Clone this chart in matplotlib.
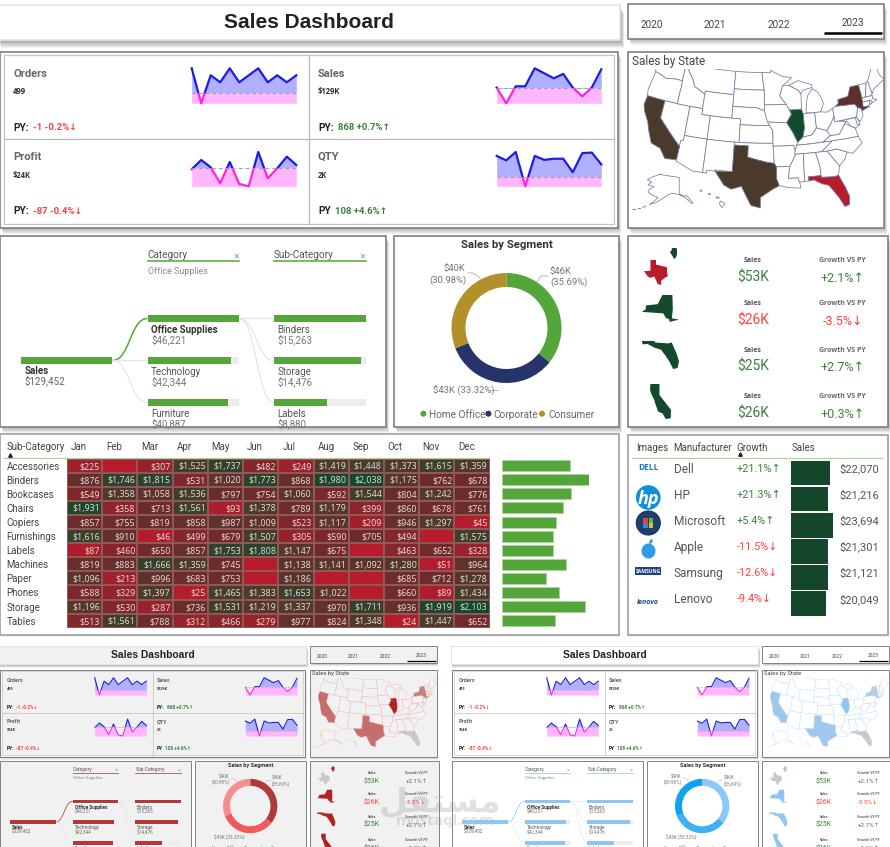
import numpy as np
import matplotlib
matplotlib.use("Agg")
import matplotlib.pyplot as plt
from matplotlib.colors import LinearSegmentedColormap
from matplotlib.patches import Rectangle, Circle, Ellipse, PathPatch
from matplotlib.path import Path

# ---------- figures shown on the dashboard ----------
MONTHS = ["Jan", "Feb", "Mar", "Apr", "May", "Jun", "Jul", "Aug", "Sep", "Oct", "Nov", "Dec"]
YEARS = ["2020", "2021", "2022", "2023"]

ORDERS_TREND = [48, 38, 46, 44, 48, 44, 46, 48, 44, 46, 44, 46]
ORDERS_BASE = 41
SALES_TREND = [10.8, 8.45, 11.0, 11.0, 13.7, 12.95, 12.2, 12.85, 10.8, 9.5, 10.8, 13.55]
SALES_BASE = 10.8
PROFIT_TREND = [1.91, 2.75, 2.09, 0.65, 2.57, 0.59, 0.38, 3.47, 1.1, 2.0, 3.05, 2.3]
PROFIT_BASE = 2.0
QTY_TREND = [187, 179, 194, 133, 187, 180, 182, 182, 158, 192, 193, 172]
QTY_BASE = 150

CATEGORY_NAMES = ["Office Supplies", "Technology", "Furniture"]
CATEGORY_SALES = [46221, 42344, 40887]
SUBCAT_NAMES = ["Binders", "Storage", "Labels"]
SUBCAT_SALES = [15263, 14476, 8880]

SEGMENT_NAMES = ["Home Office", "Corporate", "Consumer"]
SEGMENT_SHARE = [35.69, 33.32, 30.98]

HEAT_LABELS = ["Accessories", "Binders", "Bookcases", "Chairs", "Copiers", "Furnishings",
               "Labels", "Machines", "Paper", "Phones", "Storage", "Tables"]
HEAT_ACCESSORIES = [225, None, 307, 1525, 1737, 482, 249, 1419, 1448, 1373, 1615, 1359]
HEAT_BINDERS = [876, 1746, 1815, 531, 1020, 1773, 868, 1980, 2038, 1175, 762, 678]
HEAT_BOOKCASES = [549, 1358, 1058, 1536, 797, 754, 1060, 592, 1544, 804, 1242, 776]
HEAT_CHAIRS = [1931, 358, 713, 1561, 93, 1378, 789, 1179, 399, 860, 678, 761]
HEAT_COPIERS = [857, 755, 819, 858, 987, 1009, 523, 1117, 209, 946, 1297, 45]
HEAT_FURNISHINGS = [1616, 910, 46, 499, 679, 1507, 305, 590, 705, 494, None, 1575]
HEAT_LABELS_ROW = [87, 460, 650, 857, 1753, 1808, 1147, 675, None, 463, 652, 328]
HEAT_MACHINES = [819, 883, 1666, 1359, 745, None, 1138, 1141, 1092, 1280, 51, 964]
HEAT_PAPER = [1096, 213, 996, 683, 753, None, 1186, None, None, 685, 712, 1278]
HEAT_PHONES = [588, 329, 1397, 25, 1465, 1383, 1653, 1022, None, 660, 89, 1434]
HEAT_STORAGE = [1196, 530, 287, 736, 1531, 1219, 1337, 970, 1711, 936, 1919, 2103]
HEAT_TABLES = [513, 1561, 788, 312, 466, 279, 977, 824, 1348, 24, 1447, 652]
HEAT_ROWS = [HEAT_ACCESSORIES, HEAT_BINDERS, HEAT_BOOKCASES, HEAT_CHAIRS, HEAT_COPIERS,
             HEAT_FURNISHINGS, HEAT_LABELS_ROW, HEAT_MACHINES, HEAT_PAPER, HEAT_PHONES,
             HEAT_STORAGE, HEAT_TABLES]
SUBCAT_TOTALS = [11939, 15263, 12070, 10700, 9422, 8926, 8880, 11138, 7602, 10045, 14476, 9191]

CARD_STATES = ["TX", "NY", "FL", "CA"]
CARD_SALES = ["$53K", "$26K", "$25K", "$26K"]
CARD_GROWTH = ["+2.1%↑", "-3.5%↓", "+2.7%↑", "+0.3%↑"]

MAKERS = ["Dell", "HP", "Microsoft", "Apple", "Samsung", "Lenovo"]
MAKER_GROWTH = ["+21.1%↑", "+21.3%↑", "+5.4%↑", "-11.5%↓", "-12.6%↓", "-9.4%↓"]
MAKER_SALES = [22070, 21216, 23694, 21301, 21121, 20049]

# Simplified state outlines as (longitude, latitude)
STATES = {
    "WA": [(-124.7, 48.4), (-123, 48.2), (-122.8, 49), (-117, 49), (-117, 46), (-119, 46), (-121, 45.7), (-123, 46.2), (-124, 46.3)],
    "OR": [(-124, 46.3), (-123, 46.2), (-121, 45.7), (-119, 46), (-117, 46), (-116.9, 45), (-117, 44), (-117, 42), (-124.2, 42), (-124.5, 43)],
    "CA": [(-124.2, 42), (-120, 42), (-120, 39), (-114.6, 35), (-114.7, 32.7), (-117.1, 32.5), (-118.5, 34), (-120.6, 34.5), (-121.9, 36.6), (-122.5, 37.8), (-123.8, 39.3), (-124.4, 40.4)],
    "NV": [(-120, 42), (-114, 42), (-114, 36.2), (-114.6, 36), (-114.6, 35), (-120, 39)],
    "ID": [(-117, 49), (-116, 49), (-116, 48), (-114.5, 46.6), (-113.8, 45.5), (-111, 44.5), (-111, 42), (-117, 42), (-117, 44), (-116.9, 45), (-117, 46)],
    "MT": [(-116, 49), (-104, 49), (-104, 45), (-111, 45), (-111, 44.5), (-113.8, 45.5), (-114.5, 46.6), (-116, 48)],
    "WY": [(-111, 45), (-104, 45), (-104, 41), (-111, 41)],
    "UT": [(-114, 42), (-111, 42), (-111, 41), (-109, 41), (-109, 37), (-114, 37)],
    "AZ": [(-114, 37), (-109, 37), (-109, 31.3), (-111, 31.3), (-114.8, 32.5), (-114.7, 32.7), (-114.6, 35), (-114.6, 36), (-114, 36.2)],
    "CO": [(-109, 41), (-102, 41), (-102, 37), (-109, 37)],
    "NM": [(-109, 37), (-103, 37), (-103, 32), (-106.6, 32), (-106.5, 31.8), (-108.2, 31.8), (-108.2, 31.3), (-109, 31.3)],
    "ND": [(-104, 49), (-97.2, 49), (-96.6, 46), (-104, 46)],
    "SD": [(-104, 46), (-96.6, 46), (-96.5, 42.5), (-98.5, 43), (-104, 43)],
    "NE": [(-104, 43), (-98.5, 43), (-96.5, 42.5), (-95.3, 40), (-102, 40), (-102, 41), (-104, 41)],
    "KS": [(-102, 40), (-95.3, 40), (-94.6, 39.1), (-94.6, 37), (-102, 37)],
    "OK": [(-103, 37), (-94.6, 37), (-94.4, 33.6), (-96, 33.8), (-100, 34.6), (-100, 36.5), (-103, 36.5)],
    "TX": [(-103, 36.5), (-100, 36.5), (-100, 34.6), (-96, 33.8), (-94.4, 33.6), (-94, 33), (-94, 31), (-93.5, 29.8), (-95, 29.1), (-97.2, 27.8), (-97.2, 26), (-99, 26.4), (-101, 29.6), (-103, 29), (-104.5, 29.6), (-106.5, 31.8), (-103, 32)],
    "MN": [(-97.2, 49), (-95, 49), (-95, 49.4), (-92, 48.3), (-89.6, 48), (-92, 46.7), (-92.3, 46), (-92.8, 45), (-91.3, 43.5), (-96.5, 43.5), (-96.5, 45.5), (-96.6, 46)],
    "IA": [(-96.5, 43.5), (-91.3, 43.5), (-90.2, 41.8), (-91.4, 40.4), (-95.8, 40.6), (-96.5, 42.5)],
    "MO": [(-95.8, 40.6), (-91.4, 40.4), (-90.2, 38.8), (-89.2, 37), (-89.5, 36), (-90.3, 36), (-90.1, 36.5), (-94.6, 36.5), (-94.6, 39.1)],
    "AR": [(-94.6, 36.5), (-90.1, 36.5), (-89.8, 35), (-91.2, 33), (-94, 33), (-94.4, 33.6)],
    "LA": [(-94, 33), (-91.2, 33), (-91.6, 31), (-89.7, 31), (-89.4, 30.2), (-89.2, 29.2), (-91.5, 29.4), (-93.5, 29.8), (-94, 31)],
    "WI": [(-92, 46.7), (-90.5, 46.7), (-88.2, 45.8), (-87.6, 45), (-87.8, 42.5), (-90.6, 42.5), (-91.3, 43.5), (-92.8, 45), (-92.3, 46)],
    "IL": [(-90.6, 42.5), (-87.8, 42.5), (-87.5, 41.7), (-87.5, 39.3), (-88, 37.8), (-89.2, 37), (-90.2, 38.8), (-91.4, 40.4), (-90.2, 41.8)],
    "IN": [(-87.5, 41.7), (-84.8, 41.7), (-84.8, 39.1), (-86, 38), (-88, 37.8), (-87.5, 39.3)],
    "MI": [(-86.8, 41.8), (-84.8, 41.7), (-83.4, 41.7), (-82.5, 43), (-82.8, 44), (-83.4, 45), (-84.7, 45.8), (-86, 44.7), (-86.5, 43.5)],
    "UP": [(-90.5, 46.7), (-88, 47.4), (-84.8, 46.5), (-84.7, 46), (-87, 45.7), (-87.6, 45.1), (-88.2, 45.8)],
    "OH": [(-84.8, 41.7), (-83.4, 41.7), (-82, 41.5), (-80.5, 42), (-80.5, 40.6), (-81.7, 39.2), (-82.6, 38.4), (-84.8, 39.1)],
    "KY": [(-89.5, 36.5), (-83.7, 36.6), (-82, 37.5), (-82.6, 38.4), (-84.8, 39.1), (-86, 38), (-88, 37.8), (-89.2, 37)],
    "TN": [(-90.1, 35), (-84.3, 35), (-81.7, 36.6), (-89.5, 36.5)],
    "MS": [(-91.2, 33), (-89.8, 35), (-88.2, 35), (-88.4, 30.3), (-89.4, 30.2), (-89.7, 31), (-91.6, 31)],
    "AL": [(-88.2, 35), (-85.6, 35), (-85, 32.5), (-85, 31), (-87.6, 31), (-87.5, 30.3), (-88.4, 30.3)],
    "GA": [(-85.6, 35), (-83.1, 35), (-81, 32.2), (-81.5, 30.7), (-82.2, 30.5), (-85, 30.7), (-85, 32.5)],
    "FL": [(-87.6, 31), (-85, 31), (-85, 30.7), (-82.2, 30.5), (-81.5, 30.7), (-80.5, 28.4), (-80, 26.8), (-80.3, 25.4), (-81.2, 25.2), (-82, 26.8), (-82.8, 28), (-83.7, 29.2), (-85, 29.6), (-86.5, 30.4), (-87.5, 30.3)],
    "SC": [(-83.1, 35), (-81, 35.1), (-79, 34.3), (-79.7, 33.2), (-81, 32.2)],
    "NC": [(-84.3, 35), (-83.1, 35), (-81, 35.1), (-79, 34.3), (-77.9, 33.9), (-75.5, 35.3), (-76, 36.55), (-81.7, 36.6)],
    "VA": [(-83.7, 36.6), (-76, 36.55), (-76.3, 38), (-77.2, 38.5), (-78.4, 39.1), (-80, 37.5), (-82, 37.5)],
    "WV": [(-82.6, 38.4), (-82, 37.5), (-80, 37.5), (-78.4, 39.1), (-77.8, 39.4), (-79.5, 39.7), (-80.5, 39.7), (-80.5, 40.6), (-81.7, 39.2)],
    "MD": [(-79.5, 39.7), (-75.8, 39.7), (-75.1, 38.4), (-76.3, 38), (-77.2, 38.5), (-77.8, 39.4)],
    "DE": [(-75.8, 39.7), (-75.4, 39.8), (-75.1, 38.45), (-75.7, 38.45)],
    "PA": [(-80.5, 42), (-79.8, 42.25), (-75.3, 42), (-74.8, 41.3), (-75.1, 40.6), (-75.4, 39.8), (-80.5, 39.7)],
    "NY": [(-79.8, 42.25), (-79, 42.7), (-79, 43.3), (-76.5, 43.5), (-75.5, 45), (-73.4, 45), (-73.3, 42.7), (-73.5, 41.2), (-72, 41), (-74, 40.6), (-74, 41), (-74.8, 41.3), (-75.3, 42)],
    "NJ": [(-75.1, 40.6), (-74.8, 41.3), (-74, 41), (-74, 39.7), (-74.9, 38.9), (-75.5, 39.6)],
    "CT": [(-73.7, 42), (-71.8, 42), (-71.8, 41.3), (-73.6, 41)],
    "RI": [(-71.8, 42), (-71.4, 42), (-71.2, 41.5), (-71.8, 41.3)],
    "MA": [(-73.4, 42.75), (-71.3, 42.7), (-70.7, 42.6), (-71, 42.2), (-70, 41.8), (-71.2, 41.5), (-71.4, 42), (-73.7, 42)],
    "VT": [(-73.4, 45), (-71.5, 45), (-72.4, 42.75), (-73.3, 42.75)],
    "NH": [(-71.5, 45), (-71, 45.3), (-70.7, 43), (-71.3, 42.7), (-72.4, 42.75)],
    "ME": [(-71, 45.3), (-70.3, 46), (-69.2, 47.4), (-68, 47.3), (-67.8, 45.7), (-67, 44.8), (-70, 43.7), (-70.7, 43)],
}
ALASKA = [(-156.5, 71.3), (-162, 70), (-166.5, 68.4), (-163, 67), (-166, 65.5), (-161, 64.5), (-165, 63),
          (-166, 61.5), (-162, 59.5), (-158, 58.5), (-162, 55.8), (-165, 54.6), (-160, 55.5), (-155, 57.5),
          (-152, 59), (-150, 60), (-146, 60.8), (-141, 60), (-137, 58.7), (-134, 57), (-131, 55), (-130, 55.5),
          (-132, 57), (-135, 59.5), (-137, 59.2), (-141, 60.3), (-141, 69.6), (-150, 70.5)]
ALEUTIANS = [[(-170, 53), (-168, 53.6)], [(-174, 52.2), (-172, 52.4)], [(-178, 51.7), (-176, 51.8)]]
HAWAII = [[(-155.9, 20.2), (-155, 19.7), (-155.6, 18.95), (-156, 19.6)],
          [(-156.7, 21), (-156, 20.8), (-156.4, 20.6)],
          [(-158.2, 21.5), (-157.8, 21.6), (-157.7, 21.3)],
          [(-159.7, 22.1), (-159.3, 22.2), (-159.4, 21.9)]]

GREEN_THEME = dict(panel="#ffffff", accent="#54a63a", accent_light="#a9d49a",
                   donut=["#54a63a", "#27346b", "#b2912a"],
                   fills={"CA": "#4b3a2b", "TX": "#4b3a2b", "IL": "#134a2c", "NY": "#5e2f2b", "FL": "#b71c2c"},
                   line="#747e9e", card={"TX": "#b71c2c", "IL": "#134a2c", "NY": "#134a2c", "FL": "#134a2c", "CA": "#134a2c"})
RED_THEME = dict(panel="#f1f1f1", accent="#b03a3a", accent_light="#c98080",
                 donut=["#b03a3a", "#f05a5a", "#f48f8f"],
                 fills={"CA": "#c66d6d", "TX": "#c66d6d", "IL": "#b32222", "NY": "#c67f7f", "FL": "#c8c8c8"},
                 line="#efb0b0", card={"TX": "#c8c8c8", "IL": "#b32222", "NY": "#b32222", "FL": "#b32222", "CA": "#b32222"})
BLUE_THEME = dict(panel="#ffffff", accent="#8cc6f5", accent_light="#a6d3f7",
                  donut=["#8cc8f8", "#3fb0f0", "#0ea3ec"],
                  fills={"CA": "#a0c8ec", "TX": "#a0c8ec", "IL": "#8ec5f4", "NY": "#b9cde0", "FL": "#c9c9c9"},
                  line="#bcdcf5", card={"TX": "#c8c8c8", "IL": "#8cc6f5", "NY": "#8cc6f5", "FL": "#8cc6f5", "CA": "#8cc6f5"})

W, H = 890, 847
SEGOE = ["Open Sans", "DejaVu Sans"]
DIN = ["Roboto", "DejaVu Sans"]
TITLE = ["Liberation Sans", "DejaVu Sans"]
POS = "#3f7f3f"
NEG = "#ff4040"

fig = plt.figure(figsize=(W / 100, H / 100), dpi=100, facecolor="white")
canvas = fig.add_axes([0, 0, 1, 1], zorder=0)
canvas.set_xlim(0, W)
canvas.set_ylim(H, 0)
canvas.axis("off")


def albers(points):
    """Albers conic projection for the lower 48 states."""
    pts = np.radians(np.asarray(points, dtype=float))
    p1, p2, p0, l0 = np.radians([29.5, 45.5, 37.5, -96.0])
    n = (np.sin(p1) + np.sin(p2)) / 2
    c = np.cos(p1) ** 2 + 2 * n * np.sin(p1)
    rho = np.sqrt(c - 2 * n * np.sin(pts[:, 1])) / n
    rho0 = np.sqrt(c - 2 * n * np.sin(p0)) / n
    theta = n * (pts[:, 0] - l0)
    return np.column_stack([rho * np.sin(theta), rho0 - rho * np.cos(theta)])


def outline(points):
    """Close a lon/lat ring, subdivide its edges so parallels curve, and project it."""
    ring = list(points) + [points[0]]
    dense = []
    for (a, b), (c, d) in zip(ring[:-1], ring[1:]):
        dense.extend(zip(np.linspace(a, c, 8, endpoint=False), np.linspace(b, d, 8, endpoint=False)))
    dense.append(ring[-1])
    return albers(dense)


def flat_shape(points):
    """Plain lon/lat silhouette, corrected for latitude, for the small state icons."""
    pts = np.asarray(list(points) + [points[0]], dtype=float)
    return np.column_stack([pts[:, 0] * np.cos(np.radians(pts[:, 1].mean())), pts[:, 1]])


PROJECTED = {k: outline(v) for k, v in STATES.items()}


def dashboard(x0, y0, s, theme):
    """Draw one complete report page with its top-left at (x0, y0) and scale s."""
    def X(x):
        return x0 + s * x

    def Y(y):
        return y0 + s * y

    def sub_axes(x, y, w, h):
        ax = fig.add_axes([X(x) / W, 1 - (Y(y) + s * h) / H, s * w / W, s * h / H], zorder=2)
        ax.patch.set_alpha(0)
        ax.axis("off")
        return ax

    def txt(x, y, string, size, color="#444444", weight="normal", ha="left", va="center_baseline", family=DIN, **kw):
        return canvas.text(X(x), Y(y), string, fontsize=size * s, color=color, fontweight=weight,
                           ha=ha, va=va, family=family, zorder=5, **kw)

    def panel(x, y, w, h, edge="#808080", shadow=6, fc=None):
        for i in range(shadow, 0, -1):
            canvas.add_patch(Rectangle((X(x + 0.5 * i), Y(y + i)), s * w, s * h, fc="black", ec="none",
                                       alpha=0.05, zorder=1))
        canvas.add_patch(Rectangle((X(x), Y(y)), s * w, s * h, fc=fc or theme["panel"], ec=edge,
                                   lw=1.0 * s + 0.2, zorder=2))

    def seg(xs, ys, color, lw=1.0, zorder=4, **kw):
        canvas.plot([X(v) for v in xs], [Y(v) for v in ys], color=color, lw=lw * s, zorder=zorder, **kw)

    # ---- banner and year slicer ----
    panel(-3, 5, 623, 35, edge="#e4e4e4", shadow=8)
    txt(309, 21, "Sales Dashboard", 15, color="#222222", weight="bold", ha="center", family=TITLE)
    panel(628, 4, 256, 35)
    year_x = [652, 715, 779, 853]
    for i, (yr, xp) in enumerate(zip(YEARS, year_x)):
        txt(xp, 22 if i == 3 else 24, yr, 7.2, color="#444444", ha="center")
    seg([824, 882], [33.5, 33.5], "black", lw=1.8, solid_capstyle="butt")

    # ---- KPI tiles ----
    panel(0, 52, 618, 176)
    canvas.add_patch(Rectangle((X(4), Y(55)), s * 610, s * 169, fc="none", ec="#c4c4c4", lw=0.9 * s, zorder=3))
    seg([309, 309], [55, 224], "#b8b8b8", lw=0.9)
    seg([4, 614], [139, 139], "#b8b8b8", lw=0.9)

    def sparkline(x, y, w, h, values, base):
        ax = sub_axes(x, y, w, h)
        vals = np.asarray(values, dtype=float)
        months = np.arange(len(vals))
        lo, hi = vals.min(), vals.max()
        ax.set_xlim(0, len(vals) - 1)
        ax.set_ylim(lo, hi)
        span = hi - lo
        upper = Rectangle((-1, base), 14, span * 3, transform=ax.transData)
        lower = Rectangle((-1, lo - span), 14, base - lo + span, transform=ax.transData)
        ax.fill_between(months, base, vals, color="#b0b0ff", lw=0, clip_on=True).set_clip_path(upper)
        ax.fill_between(months, lo, vals, color="#ffb6ff", lw=0, clip_on=True).set_clip_path(lower)
        ax.plot(months, vals, color="#1c1ce6", lw=1.6 * s)[0].set_clip_path(upper)
        ax.plot(months, vals, color="#ff22e6", lw=1.6 * s)[0].set_clip_path(lower)
        ax.axhline(base, color="#a0a0a0", lw=0.8 * s, ls=(0, (3, 3)))

    sparkline(191.7, 68.3, 104.6, 35, ORDERS_TREND, ORDERS_BASE)
    sparkline(496.7, 68.3, 104.6, 35, SALES_TREND, SALES_BASE)
    sparkline(191.7, 152, 104.6, 34.3, PROFIT_TREND, PROFIT_BASE)
    sparkline(496.7, 152, 104.6, 34.3, QTY_TREND, QTY_BASE)

    kpis = [(13, 73, "Orders", "499", "PY:", 33, "-1 -0.2%↓", NEG),
            (318, 73, "Sales", "$129K", "PY:", 338, "868 +0.7%↑", POS),
            (13, 156, "Profit", "$24K", "PY:", 33, "-87 -0.4%↓", NEG),
            (318, 156, "QTY", "2K", "PY", 335, "108 +4.6%↑", POS)]
    for kx, ky, name, value, py, vx, delta, col in kpis:
        txt(kx, ky, name, 8, color="#666666", weight="bold")
        txt(kx, ky + 18, value, 5.5, color="#333333", weight="bold", family=SEGOE)
        txt(kx, ky + 54, py, 7.2, color="#222222", weight="bold")
        txt(vx, ky + 54, delta, 6.8, color=col, weight="bold")

    # ---- state map: the northern edge is trimmed by the visual frame ----
    panel(628, 52, 256, 176)
    txt(632, 59.5, "Sales by State", 8.5, color="#444444")
    all_pts = np.vstack(list(PROJECTED.values()))
    mp = sub_axes(644, 58, 240, 150)
    mp.set_xlim(all_pts[:, 0].min(), all_pts[:, 0].max())
    mp.set_ylim(all_pts[:, 1].min(), all_pts[:, 1].max())
    frame = Rectangle((X(630), Y(69)), s * 254, s * 150, transform=canvas.transData)
    for name, ring in PROJECTED.items():
        for poly in mp.fill(ring[:, 0], ring[:, 1], fc=theme["fills"].get(name, theme["panel"]), ec=theme["line"],
                            lw=0.55 * s, zorder=3 if name in theme["fills"] else 2):
            poly.set_clip_path(frame)
    ak = sub_axes(633, 174, 60, 36)
    ak.set_xlim(-178, -130)
    ak.set_ylim(51.5, 71.5)
    ak_pts = np.array(ALASKA + [ALASKA[0]])
    ak.plot(ak_pts[:, 0], ak_pts[:, 1], color=theme["line"], lw=0.55 * s, clip_on=False)
    for piece in ALEUTIANS:
        p = np.array(piece)
        ak.plot(p[:, 0], p[:, 1], color=theme["line"], lw=0.7 * s, clip_on=False)
    hi_ax = sub_axes(698, 190, 27, 18)
    hi_ax.set_xlim(-160, -155)
    hi_ax.set_ylim(18.9, 22.2)
    for piece in HAWAII:
        p = np.array(piece)
        hi_ax.fill(p[:, 0], p[:, 1], fc=theme["panel"], ec=theme["line"], lw=0.55 * s, clip_on=False)

    # ---- decomposition tree ----
    panel(0, 236, 386, 191)
    panel(394, 236, 225, 191)
    panel(628, 236, 260, 191)
    clip = Rectangle((X(0), Y(236)), s * 386, s * 189, transform=canvas.transData)
    for hx, label in [(147.5, "Category"), (274, "Sub-Category")]:
        txt(hx, 254, label, 7.2, color="#555555")
        seg([hx, hx + 91.5], [261.5, 261.5], theme["accent"], lw=1.1)
        txt(hx + 88.5, 255.5, "×", 7.5, color="#888888", ha="center", family=SEGOE)
    txt(147.5, 270, "Office Supplies", 6.4, color="#888888")

    def curve(x1, y1, x2, y2, color, lw):
        mid = (x1 + x2) / 2
        verts = [(X(x1), Y(y1)), (X(mid), Y(y1)), (X(mid), Y(y2)), (X(x2), Y(y2))]
        canvas.add_patch(PathPatch(Path(verts, [Path.MOVETO, Path.CURVE4, Path.CURVE4, Path.CURVE4]),
                                   fc="none", ec=color, lw=lw * s, zorder=3))

    rows_y = [318.5, 360.5, 402.5]
    curve(112.5, 360.5, 147.5, 318.5, theme["accent"], 1.1)
    curve(112.5, 360.5, 147.5, 360.5, "#e6e6e6", 0.9)
    curve(112.5, 360.5, 147.5, 402.5, "#e6e6e6", 0.9)
    for ry in rows_y:
        curve(239, 318.5, 274, ry, "#e6e6e6", 0.9)

    root = sub_axes(21, 357, 91.5, 7)
    root.set_xlim(0, sum(CATEGORY_SALES))
    root.set_ylim(-0.5, 0.5)
    root.barh([0], [sum(CATEGORY_SALES)], height=1, color=theme["accent"])
    txt(24.5, 370.5, "Sales", 7, color="#333333", weight="bold")
    txt(24.5, 380, f"${sum(CATEGORY_SALES):,}", 7, color="#666666")

    def tree_column(x, names, values, bold_first):
        ax = sub_axes(x, 297.5, 91.5, 126)
        ax.set_xlim(0, max(values))
        ax.set_ylim(2.5, -0.5)
        idx = np.arange(len(values))
        ax.barh(idx, [max(values)] * len(values), height=7 / 42, color="#ececec")
        ax.barh(idx, values, height=7 / 42, color=theme["accent"])
        for i, (name, val) in enumerate(zip(names, values)):
            top = rows_y[i]
            t1 = txt(x + 3.5, top + 10.5, name, 7, color="#333333" if (bold_first and i == 0) else "#555555",
                     weight="bold" if (bold_first and i == 0) else "normal")
            t2 = txt(x + 3.5, top + 20, f"${val:,}", 7, color="#777777")
            for t in (t1, t2):
                t.set_clip_path(clip)

    tree_column(147.5, CATEGORY_NAMES, CATEGORY_SALES, True)
    tree_column(274, SUBCAT_NAMES, SUBCAT_SALES, False)

    # ---- segment donut ----
    txt(507, 244, "Sales by Segment", 8.2, color="#333333", weight="bold", ha="center")
    dn = sub_axes(451.5, 273, 110, 110)
    dn.pie(SEGMENT_SHARE, colors=theme["donut"], startangle=90, counterclock=False, radius=1,
           wedgeprops=dict(width=14 / 55, lw=0))
    dn.set_xlim(-1, 1)
    dn.set_ylim(-1, 1)
    dn.set_aspect("auto")
    txt(550, 270.5, "$46K", 6.8, color="#777777")
    txt(550, 281.5, "(35.69%)", 6.8, color="#777777")
    seg([536, 541, 548], [283, 276, 276], "#aaaaaa", lw=0.6)
    txt(465, 268, "$40K", 6.8, color="#777777", ha="right")
    txt(466, 279, "(30.98%)", 6.8, color="#777777", ha="right")
    seg([468, 473, 480], [273, 273, 278], "#aaaaaa", lw=0.6)
    txt(433, 390, "$43K (33.32%)", 6.8, color="#777777")
    seg([489, 498], [390, 390], "#aaaaaa", lw=0.6)
    for name, col, dx, tx in zip(SEGMENT_NAMES, theme["donut"], [423.4, 488.4, 542], [429, 493.6, 548]):
        canvas.add_patch(Circle((X(dx), Y(413.7)), 3 * s, fc=col, ec="none", zorder=4))
        txt(tx, 413.7, name, 7.2, color="#666666")

    # ---- top-state cards ----
    mini_boxes = {"IL": (670, 248, 7, 11), "TX": (644, 260, 24, 25), "NY": (642, 295, 37, 27),
                  "FL": (642, 341, 37, 28), "CA": (650, 384, 21, 35)}
    for st, (bx, by, bw, bh) in mini_boxes.items():
        ring = flat_shape(STATES[st])
        ax = sub_axes(bx, by, bw, bh)
        ax.set_xlim(ring[:, 0].min(), ring[:, 0].max())
        ax.set_ylim(ring[:, 1].min(), ring[:, 1].max())
        ax.fill(ring[:, 0], ring[:, 1], fc=theme["card"][st], ec="none", clip_on=False)
    label_y = [259.3, 302.3, 349.3, 395.3]
    value_y = [276, 319, 365, 411.7]
    for ly, vy, sale, growth in zip(label_y, value_y, CARD_SALES, CARD_GROWTH):
        col = NEG if growth.startswith("-") else POS
        txt(752.7, ly, "Sales", 5, color="#555555", weight="bold", ha="center", family=SEGOE)
        txt(842.7, ly, "Growth VS PY", 5, color="#666666", weight="bold", ha="center", family=SEGOE)
        txt(752.7, vy, sale, 10, color=col, ha="center")
        txt(842.7, vy + 0.8, growth, 9, color=col, ha="center")

    # ---- the two lower tables only fit on the full-size page ----
    if Y(434) >= H:
        return

    panel(0, 434, 619, 201, edge="#a0a0a0", shadow=2)
    panel(628, 435, 260, 200, edge="#a0a0a0", shadow=2)

    hx = [6.4, 71, 106.5, 141, 176.6, 211.7, 246.8, 282.3, 317.4, 352.5, 387.6, 422.6, 458]
    for xp, label in zip(hx, ["Sub-Category"] + MONTHS):
        txt(xp, 446, label, 7, color="#444444")
    canvas.plot([X(9.6)], [Y(454.7)], marker="^", ms=2.5 * s, color="#222222", zorder=5)
    seg([3, 489], [458, 458], theme["accent_light"], lw=0.9)

    heat_vals = np.array([[np.nan if v is None else v for v in row] for row in HEAT_ROWS], dtype=float)
    cmap = LinearSegmentedColormap.from_list("sales", ["#b81b2c", "#6e2b2b", "#4e3a2b", "#0f4a2d"])
    cmap.set_bad("#b71c2c")
    hm = sub_axes(67, 458.7, 422.6, 169)
    hm.pcolormesh(np.arange(13), np.arange(13), np.ma.masked_invalid(heat_vals), cmap=cmap, vmin=0, vmax=2103,
                  edgecolors="#8f5a55", linewidth=0.25 * s)
    hm.set_xlim(0, 12)
    hm.set_ylim(12, 0)
    for i, row in enumerate(HEAT_ROWS):
        for j, v in enumerate(row):
            if v is not None:
                hm.text(j + 0.94, i + 0.5, f"${v:,}", ha="right", va="center_baseline", fontsize=6.4 * s,
                        color="#e6dcdc", family=SEGOE)
    for i, label in enumerate(HEAT_LABELS):
        txt(6.4, 458.7 + 169 * (i + 0.5) / 12, label, 7, color="#444444")

    bars = sub_axes(502.4, 458.7, 86.6, 169)
    bars.barh(np.arange(12), SUBCAT_TOTALS, height=0.78, color=theme["accent"], ec=theme["accent_light"], lw=0.5)
    bars.set_xlim(0, 15263)
    bars.set_ylim(11.5, -0.5)

    for xp, label in zip([635.7, 673.7, 736.7, 791.3], ["Images", "Manufacturer", "Growth", "Sales"]):
        txt(xp, 446.7, label, 7, color="#444444")
    canvas.plot([X(739.7)], [Y(454)], marker="^", ms=2.5 * s, color="#222222", zorder=5)
    seg([632, 882], [458.3, 458.3], theme["accent_light"], lw=0.9)

    row_y = [467.7 + 26.12 * i for i in range(6)]
    for yp, maker, growth, sale in zip(row_y, MAKERS, MAKER_GROWTH, MAKER_SALES):
        col = NEG if growth.startswith("-") else POS
        txt(673.7, yp, maker, 8.6, color="#555555")
        txt(736.7, yp, growth, 7.8, color=col)
        txt(879, yp, f"${sale:,}", 8, color="#555555", ha="right")
    tb = sub_axes(791, 460, 41.7, 26.12 * 6)
    tb.barh(np.arange(6), MAKER_SALES, height=24.5 / 26.12, color="#15472c")
    tb.set_xlim(0, max(MAKER_SALES))
    tb.set_ylim(5.5, -0.5)

    # manufacturer marks
    txt(648.5, 467, "DELL", 6, color="#1c7cc7", weight="bold", ha="center", family=SEGOE)
    canvas.add_patch(Circle((648.3, 497.5), 12.3, fc="#0f8fdc", ec="none", zorder=4))
    txt(648.3, 497, "hp", 13, color="white", weight="bold", ha="center", style="italic", family=SEGOE)
    canvas.add_patch(Circle((648.3, 523), 12, fc="#1d3f73", ec="#20304f", lw=0.8, zorder=4))
    for (dx, dy), col in zip([(-5, -5), (0.3, -5), (-5, 0.3), (0.3, 0.3)], ["#e2452f", "#69b53a", "#3a88d8", "#f0b92c"]):
        canvas.add_patch(Rectangle((648.3 + dx, 523 + dy), 4.7, 4.7, fc=col, ec="none", zorder=5))
    canvas.add_patch(Ellipse((648.5, 551), 14, 15, fc="#2f9be8", ec="none", zorder=4))
    canvas.add_patch(Ellipse((651, 541.5), 3, 5, angle=30, fc="#2f9be8", ec="none", zorder=4))
    canvas.add_patch(Rectangle((635, 567), 26, 8, fc="#1f3f86", ec="none", zorder=4))
    txt(648, 571, "SAMSUNG", 3.6, color="white", weight="bold", ha="center", family=SEGOE)
    txt(648, 602, "lenovo", 5, color="#1f4f9c", weight="bold", ha="center", style="italic", family=SEGOE)


dashboard(0, 0, 1.0, GREEN_THEME)
dashboard(0, 644, 0.494, RED_THEME)
dashboard(452, 644, 0.494, BLUE_THEME)

# Publisher mark across the two small pages
canvas.text(440, 802, "\ufede\ufed8\ufe98\ufeb4\ufee3", fontsize=24, color="#8a8a8a", alpha=0.25, ha="center", va="center",
            family="DejaVu Sans", fontweight="bold", zorder=8)
canvas.text(445, 821, "mostaql.com", fontsize=11, color="#8a8a8a", alpha=0.25, ha="center", va="center",
            family=SEGOE, fontweight="bold", zorder=8)

fig.savefig("out.png", dpi=100, facecolor="white")
